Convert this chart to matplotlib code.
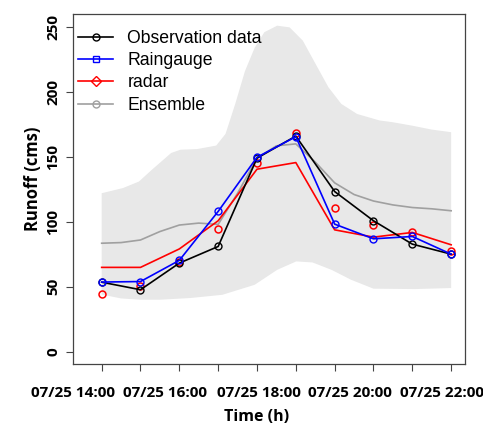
"""Runoff hydrograph: observation, raingauge, radar and ensemble spread."""
import numpy as np
import matplotlib
matplotlib.use('Agg')
import matplotlib.pyplot as plt
from matplotlib.lines import Line2D

# time steps (index) of the simulated hydrograph
steps = np.arange(10)
observed = [53.5, 47.7, 68.2, 81.0, 149.0, 166.0, 123.3, 100.8, 82.8, 75.1]
raingauge = [53.6, 54.0, 70.3, 108.0, 149.7, 165.5, 98.2, 86.9, 88.7, 75.1]
radar_line = [64.9, 64.9, 79.1, 100.8, 140.5, 145.6, 93.8, 88.2, 91.8, 82.3]
radar_pts = [44.4, 50.3, 69.0, 94.6, 145.1, 168.5, 110.8, 97.4, 92.3, 77.7]

# ensemble mean on half steps
ens_x = np.arange(0, 9.01, 0.5)
ens_mean = [83.5, 84.0, 86.0, 92.5, 97.5, 99.0, 98.0, 122.0, 149.0, 158.5,
            160.0, 146.0, 130.0, 121.0, 116.0, 113.0, 111.0, 110.0, 108.5]

# ensemble spread (upper / lower envelope)
upper_x = [0, 0.55, 0.96, 1.29, 1.79, 2.03, 2.46, 2.95, 3.19, 3.44, 3.69, 3.94,
           4.19, 4.52, 4.84, 5.18, 5.51, 5.84, 6.17, 6.58, 7.16, 7.49, 8.0, 8.5, 9.0]
upper_y = [122, 126, 131, 140, 153, 155.5, 156, 158.7, 167.7, 190.8, 216, 234,
           246, 251, 249.7, 239.5, 221.5, 203.6, 190.8, 183, 178, 176.7, 174, 171, 169]
lower_x = [0, 0.5, 1.0, 1.5, 2.28, 3.11, 3.94, 4.52, 5.01, 5.43, 5.92, 6.42, 7.0, 8.06, 9.0]
lower_y = [44, 41, 40, 40, 41.3, 43.8, 51.5, 63, 69.5, 68.7, 63, 55.4, 48.5, 48.2, 49]

time_labels = ['07/25 14:00', '07/25 16:00', '07/25 18:00', '07/25 20:00', '07/25 22:00']
label_pos = [-0.74, 1.63, 4.04, 6.40, 8.76]

bold_font = 'Open Sans'

fig = plt.figure(figsize=(4.83, 4.28), dpi=100)
ax = fig.add_axes([0.151, 0.1495, 0.812, 0.8178])

ax.fill(np.concatenate([upper_x, lower_x[::-1]]),
        np.concatenate([upper_y, lower_y[::-1]]), color='#e8e8e8', lw=0)
ax.plot(ens_x, ens_mean, color='#a0a0a0', lw=1.2)
ax.plot(steps, radar_line, color='red', lw=1.2)
ax.plot(steps, radar_pts, ls='none', marker='o', ms=5, mfc='none', mec='red', mew=1.1)
ax.plot(steps, observed, color='black', lw=1.2, marker='o', ms=5, mfc='none', mew=1.0)
ax.plot(steps, raingauge, color='blue', lw=1.2, marker='o', ms=5, mfc='none', mew=1.0)

ax.set_xlim(-0.37, 9.36)
ax.set_ylim(-9.5, 260)

ax.set_xticks(steps)
ax.set_xticklabels([])
ax.set_xticks(label_pos, minor=True)
ax.set_xticklabels(time_labels, minor=True, fontfamily=bold_font,
                   fontweight='bold', fontsize=11)
ax.tick_params(axis='x', which='major', length=5, width=0.8, color='#444444')
ax.tick_params(axis='x', which='minor', length=0, pad=16)

ax.set_yticks([0, 50, 100, 150, 200, 250])
ax.set_yticklabels(['0', '50', '100', '150', '200', '250'], rotation=90,
                   va='center', fontfamily=bold_font, fontweight='bold', fontsize=11)
ax.tick_params(axis='y', length=5, width=0.8, color='#444444', pad=4)

for s in ax.spines.values():
    s.set_color('#444444')
    s.set_linewidth(0.9)

ax.set_xlabel('Time (h)', fontfamily=bold_font, fontweight='bold', fontsize=11.5)
ax.xaxis.set_label_coords(0.467, -0.128)
ax.set_ylabel('Runoff (cms)', fontfamily=bold_font, fontweight='bold', fontsize=12)
ax.yaxis.set_label_coords(-0.078, 0.529)

handles = [
    Line2D([], [], color='black', lw=1.2, marker='o', ms=5, mfc='none'),
    Line2D([], [], color='blue', lw=1.2, marker='s', ms=5, mfc='none'),
    Line2D([], [], color='red', lw=1.2, marker='D', ms=5, mfc='none'),
    Line2D([], [], color='#a0a0a0', lw=1.2, marker='o', ms=5, mfc='none'),
]
ax.legend(handles, ['Observation data', 'Raingauge', 'radar', 'Ensemble'],
          loc='upper left', bbox_to_anchor=(-0.005, 0.975), frameon=False,
          handlelength=2.0, handletextpad=0.8, labelspacing=0.3, borderaxespad=0,
          prop={'family': 'Liberation Sans', 'size': 12.7})

fig.savefig('out.png', dpi=100)
